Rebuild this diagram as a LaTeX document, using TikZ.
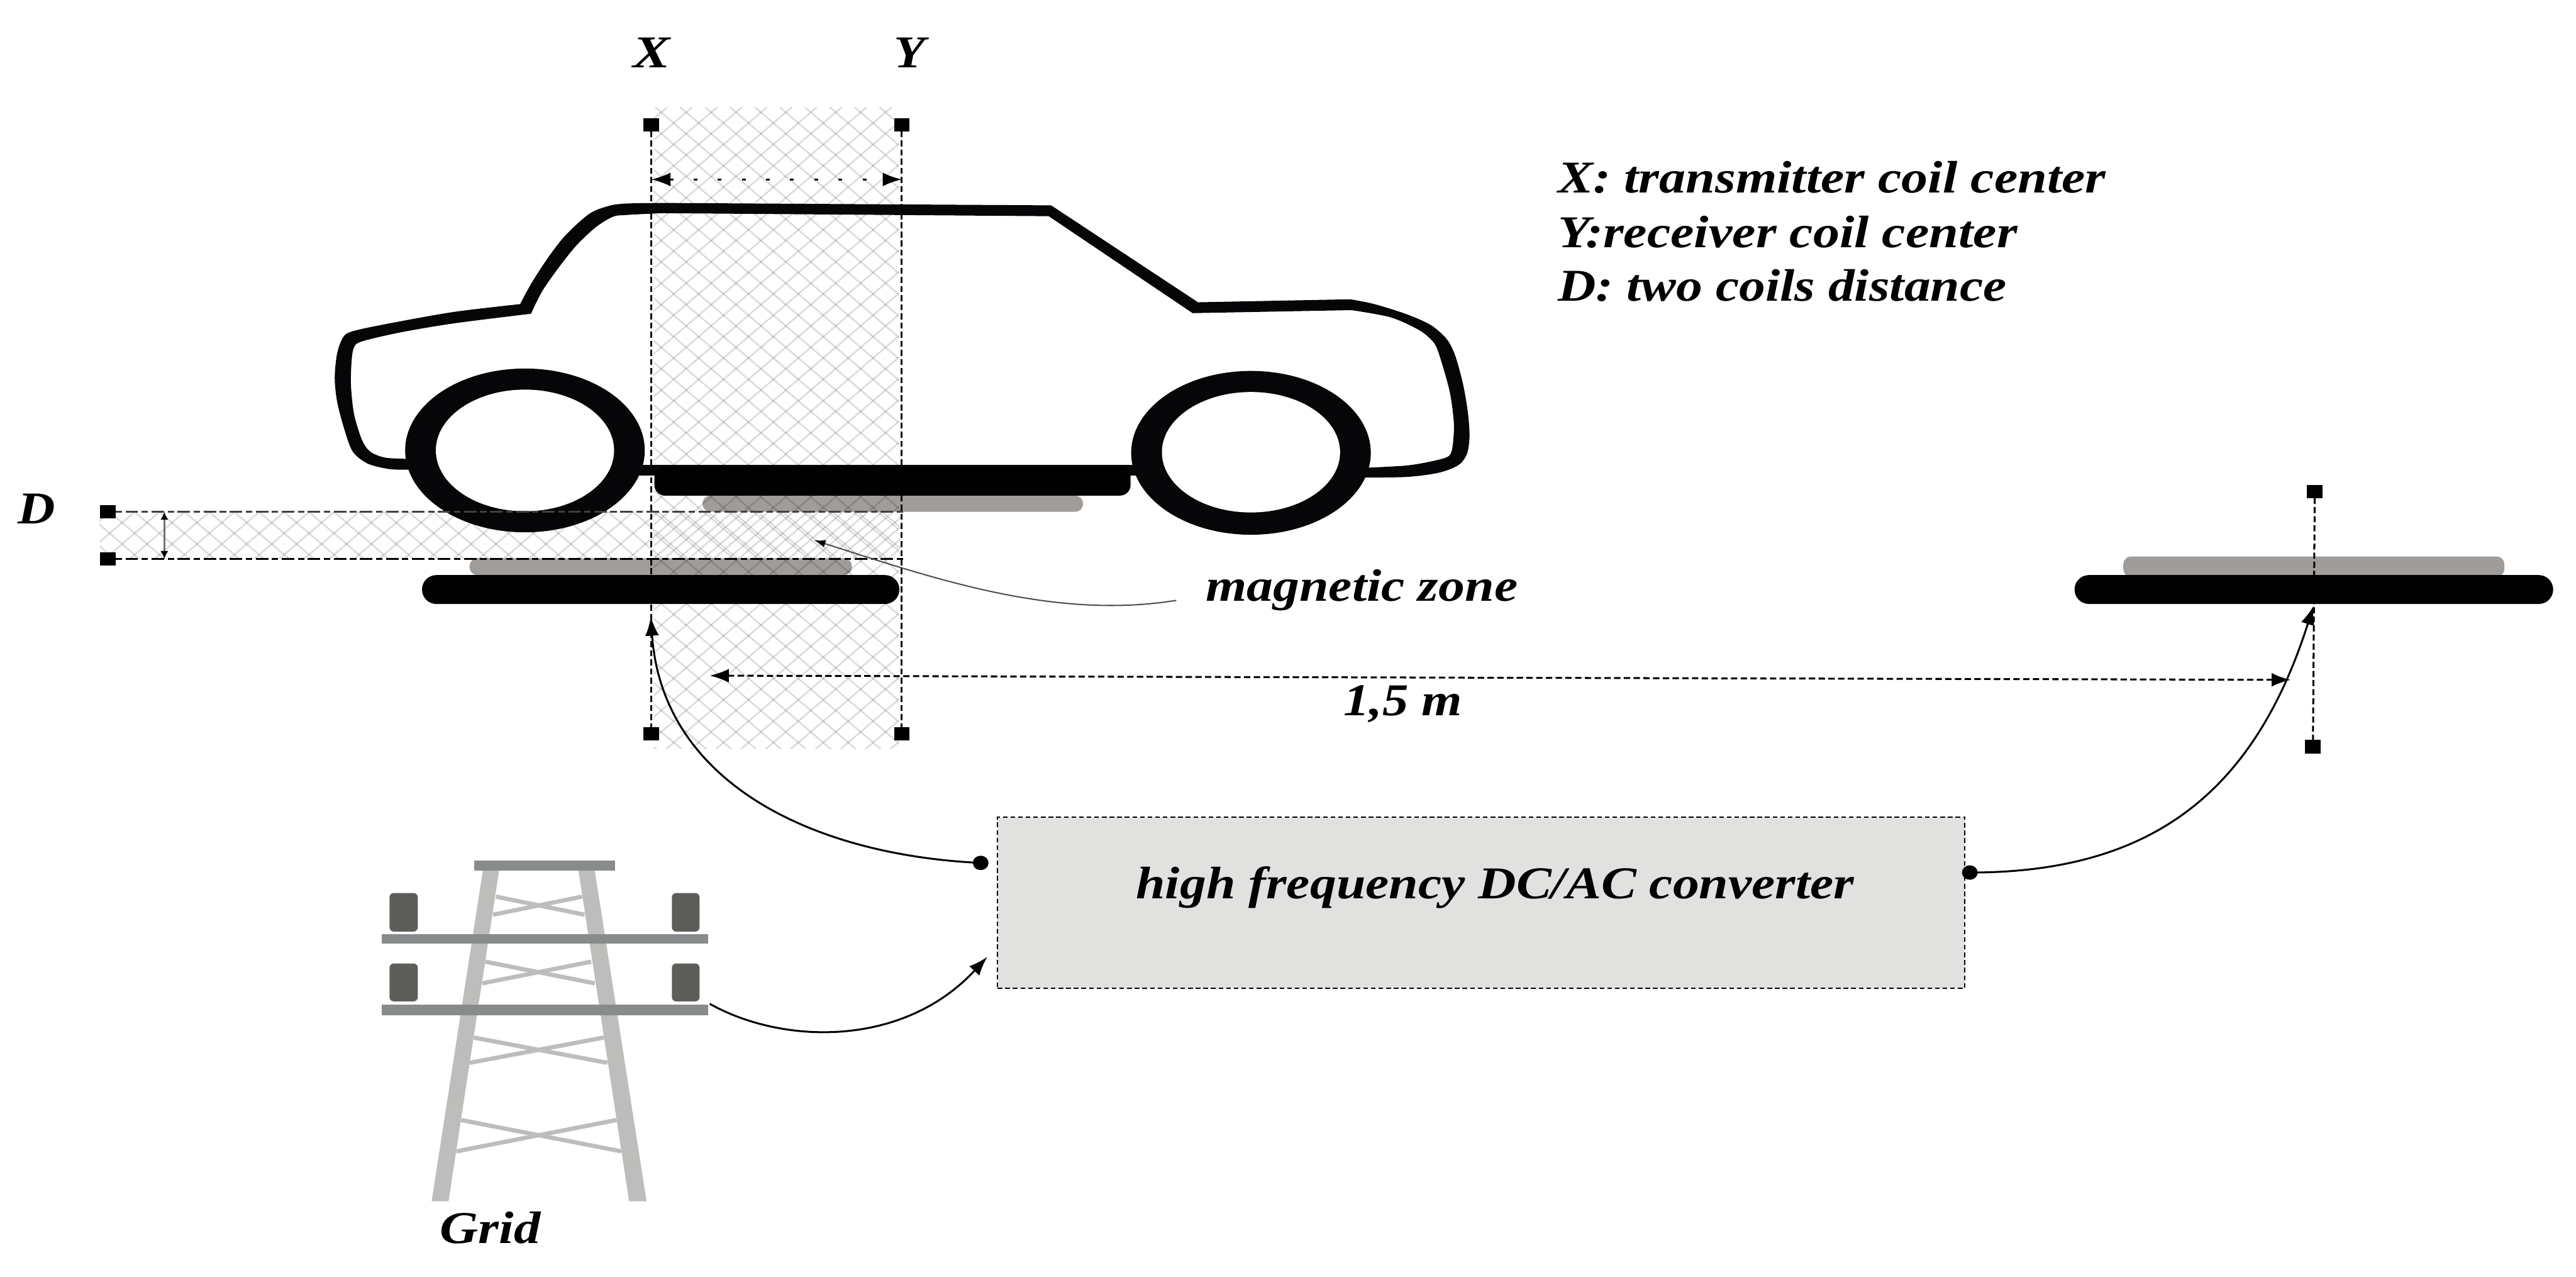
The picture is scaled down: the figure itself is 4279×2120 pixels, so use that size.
\documentclass[tikz,border=0pt]{standalone}
\usepackage{fontspec}
\usepackage{graphicx}
\setmainfont{Liberation Serif}
\usetikzlibrary{arrows.meta,shapes.geometric}
\definecolor{coilgray}{HTML}{A09C9A}
\definecolor{armgray}{HTML}{888B8B}
\definecolor{leggray}{HTML}{BDBDBB}
\definecolor{insgray}{HTML}{5D5E5A}
\definecolor{boxgray}{HTML}{E1E1E0}
\definecolor{carblack}{HTML}{060608}
\newlength{\pxu}\setlength{\pxu}{0.01cm}
\newcommand{\fitw}[2]{\resizebox{#1\pxu}{\height}{#2}}
\tikzset{
  x=0.01cm,y=-0.01cm,
  lbl/.style={anchor=base west,inner sep=0pt,outer sep=0pt,font=\fontsize{21.5}{25}\selectfont\bfseries\itshape},
  marker/.style={fill=black,draw=none,minimum width=26\pxu,minimum height=22\pxu,inner sep=0pt,outer sep=0pt},
  dotn/.style={ellipse,fill=black,draw=none,minimum width=26\pxu,minimum height=24\pxu,inner sep=0pt,outer sep=0pt},
  guide/.style={line width=0.9pt,dash pattern=on 2.85pt off 1.45pt},
  dashdotline/.style={line width=#1,dash pattern=on 3pt off 1.7pt on 5.9pt off 1.7pt},
  hatch/.style={black,draw opacity=0.14,line width=0.75pt},
  bigtip/.style={-{Latex[length=9pt,width=6.5pt]}},
  coilblack/.style={fill=black,rounded corners=6.8pt},
  coilgrey/.style={fill=coilgray,rounded corners=3.7pt},
  brace/.style={leggray,line width=2pt},
  arm/.style={fill=armgray},
  leg/.style={fill=leggray},
  ins/.style={fill=insgray,rounded corners=2pt},
}
\begin{document}
\begin{tikzpicture}
\useasboundingbox (0,0) rectangle (4279,2120);
% grey coils
\fill[coilgrey] (1167,823) rectangle (1799,850);
\fill[coilgrey] (780,927) rectangle (1415,955);
\fill[coilgrey] (3527,924) rectangle (4160,958);
% hatch
\begin{scope}
\clip (1086,178) rectangle (1493,1244);
\foreach \n in {0,...,41} {
  \draw[hatch] (-153.6+41.4*\n,178) -- (1090.4+41.4*\n,1244);
  \draw[hatch] (-177+41.4*\n,1244) -- (1067+41.4*\n,178);
}
\end{scope}
\begin{scope}
\clip (165,850) rectangle (1496,928);
\foreach \n in {0,...,35} {
  \draw[hatch] (57.8+41.4*\n,850) -- (148.8+41.4*\n,928);
  \draw[hatch] (50+41.4*\n,928) -- (141+41.4*\n,850);
}
\end{scope}
% car body
\fill[carblack]
  plot[smooth] coordinates {(679,780) (647,779) (611,770) (586,750) (572,713) (560,667) (556,627) (560,587) (570,560) (586,550) (647,537) (754,518) (864,505)}
  -- plot[smooth] coordinates {(864,505) (883,470) (911,427) (940,390) (979,355) (1011,342) (1040,338) (1100,337)}
  -- (1746,341) -- (1990,502) -- (2243,497)
  -- plot[smooth] coordinates {(2243,497) (2283,505) (2337,522) (2377,540) (2403,563) (2417,590) (2430,637) (2438,683) (2441,723) (2437,753) (2423,772) (2390,785) (2337,792) (2265,793)}
  -- plot[smooth] coordinates {(2265,777) (2337,773) (2383,765) (2407,757) (2413,740) (2415,703) (2408,650) (2390,587) (2380,567) (2357,548) (2310,527) (2245,515)}
  -- (1981,520) -- (1742,359) -- (1100,354)
  -- plot[smooth] coordinates {(1100,354) (1040,357) (1018,360) (990,377) (958,407) (929,443) (901,483) (882,521)}
  -- plot[smooth] coordinates {(882,521) (754,537) (665,552) (601,567) (588,577) (584,600) (583,640) (588,687) (601,730) (615,750) (640,760) (679,762)}
  -- cycle;
\fill[carblack] (1060,772) rectangle (1890,790);
% wheels
\fill[carblack] (872,748) ellipse [x radius=199,y radius=136];
\fill[white] (872,748) ellipse [x radius=148,y radius=101];
\fill[carblack] (2078,752) ellipse [x radius=199,y radius=136];
\fill[white] (2078,751) ellipse [x radius=148,y radius=100];
% markers
\node[marker] (xtop) at (1082,207) {};
\node[marker] (ytop) at (1498,207) {};
\node[marker] (xbot) at (1082,1219) {};
\node[marker] (ybot) at (1498,1219) {};
\node[marker] (dtop) at (179,850) {};
\node[marker] (dbot) at (179,928) {};
\node[marker] (rtop) at (3845,816) {};
\node[marker] (rbot) at (3842,1240) {};
\coordinate (xdim) at (1082,298);
\coordinate (ydim) at (1498,298);
\coordinate (dtend) at (1501,850);
\coordinate (dbend) at (1501,928);
\coordinate (ddima) at (273,850);
\coordinate (ddimb) at (273,928);
% guides
\draw[guide] (xtop) -- (xbot);
\draw[guide] (ytop) -- (ybot);
\draw[guide] (rtop) -- (rbot);
\draw[black!75,dashdotline=0.7pt] (dtop) -- (dtend);
\draw[dashdotline=1pt] (dbot) -- (dbend);
\draw[line width=0.9pt,dash pattern=on 1.8pt off 9.6pt,{Latex[length=9pt,width=6.5pt]}-{Latex[length=9pt,width=6.5pt]}] (xdim) -- (ydim);
\draw[black!55,line width=0.7pt,{Latex[length=3.7pt,width=3.7pt,black]}-{Latex[length=3.7pt,width=3.7pt,black]}] (ddima) -- (ddimb);
% black coils
\fill[coilblack,rounded corners=5pt] (1087,775) rectangle (1878,823);
\fill[coilblack] (701,955) rectangle (1494,1003);
\fill[coilblack] (3446,955) rectangle (4241,1003);
% tower
\fill[leg] (802,1446) -- (829,1446) -- (745,1995) -- (717,1995) -- cycle;
\fill[leg] (961,1446) -- (988,1446) -- (1074,1995) -- (1045,1995) -- cycle;
\draw[brace] (824,1489) -- (971,1519);
\draw[brace] (819,1519) -- (967,1489);
\draw[brace] (806,1597) -- (988,1633);
\draw[brace] (801,1633) -- (982,1597);
\draw[brace] (787,1723) -- (1009,1765);
\draw[brace] (780,1765) -- (1003,1723);
\draw[brace] (766,1860) -- (1032,1912);
\draw[brace] (758,1912) -- (1024,1860);
\fill[arm] (788,1429) rectangle (1022,1446);
\fill[arm] (634,1551) rectangle (1176,1567);
\fill[arm] (634,1668) rectangle (1176,1686);
\fill[ins] (647,1483) rectangle (694,1547);
\fill[ins] (1116,1483) rectangle (1162,1547);
\fill[ins] (647,1600) rectangle (694,1663);
\fill[ins] (1116,1600) rectangle (1162,1663);
% converter
\node[draw=black,fill=boxgray,line width=0.6pt,dash pattern=on 2.2pt off 1.4pt,minimum width=1607\pxu,minimum height=284\pxu,inner sep=0pt] (conv) at (2460.5,1499) {};
\node[dotn] (dotl) at (1629,1433) {};
\node[dotn] (dotr) at (3272,1449) {};
% free ends
\coordinate (xin) at (1081,1024);
\coordinate (rin) at (3843,1006);
\coordinate (gridout) at (1179,1667);
\coordinate (convin) at (1640,1589);
\coordinate (dimL) at (1179,1122);
\coordinate (dimR) at (3805,1129);
\coordinate (leadA) at (1954,997);
\coordinate (leadB) at (1352,897);
% connectors
\draw[line width=0.9pt,dash pattern=on 3pt off 1.6pt,{Latex[length=9pt,width=6.5pt]}-{Latex[length=9pt,width=6.5pt]}] (dimL) -- (dimR);
\draw[line width=0.9pt,bigtip] (dotl.center) .. controls (1350,1420) and (1100,1300) .. (xin);
\draw[line width=0.9pt,bigtip] (dotr.center) .. controls (3560,1449) and (3740,1330) .. (rin);
\draw[line width=0.9pt,bigtip] (gridout) .. controls (1300,1735) and (1500,1740) .. (convin);
\draw[line width=0.6pt,black!70,-{Latex[length=5.5pt,width=3.5pt,black]}] (leadA) .. controls (1750,1030) and (1550,960) .. (leadB);
% labels
\node[lbl] (lx) at (1051,112) {\fitw{62}{X}};
\node[lbl] (ly) at (1485,112) {\fitw{52}{Y}};
\node[lbl] (ld) at (30,870) {\fitw{62}{D}};
\node[lbl] (leg1) at (2588,320) {\fitw{910}{X: transmitter coil center}};
\node[lbl] (leg2) at (2588,411) {\fitw{763}{Y:receiver coil center}};
\node[lbl] (leg3) at (2588,500) {\fitw{745}{D: two coils distance}};
\node[lbl] (mz) at (2003,998) {\fitw{518}{magnetic zone}};
\node[lbl] (dist) at (2232,1188) {\fitw{197}{1,5 m}};
\node[lbl] (ct) at (1887,1492) {\fitw{1193}{high frequency DC/AC converter}};
\node[lbl] (grid) at (731,2065) {\fitw{167}{Grid}};
\end{tikzpicture}
\end{document}
